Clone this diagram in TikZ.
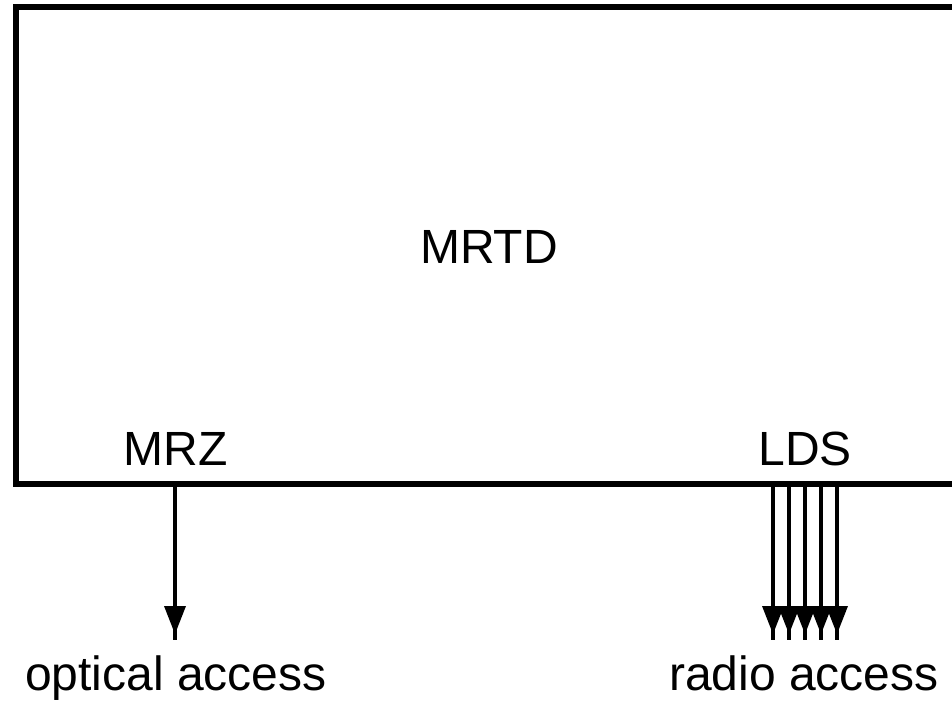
\documentclass[tikz,border=0pt]{standalone}
\usepackage{fontspec}
\setmainfont{Liberation Sans}
\usetikzlibrary{arrows.meta}
\begin{document}
\begin{tikzpicture}[x=1pt,y=-1pt,
  lbl/.style={font=\fontsize{48}{56}\selectfont, inner sep=0pt, anchor=base},
  frame/.style={draw=black, line width=6pt},
  wire/.style={draw=black, line width=4pt},
  tip/.style={draw=black, line width=4pt, shorten >=6pt, -{Triangle[width=22pt,length=28pt,line width=0pt]}}]
\useasboundingbox (0,0) rectangle (952,701);
\clip (0,0) rectangle (952,701);
\draw[frame] (16,7) rectangle (965,483.5);
\node[lbl] (mrtd) at (489,263) {MRTD};
\node[lbl] (mrz) at (175.5,465) {MRZ};
\node[lbl] (lds) at (805,465) {LDS};
\node[lbl] (opt) at (176,690) {optical access};
\node[lbl] (rad) at (804,690) {radio access};
\coordinate (m0) at (175,483.5);
\coordinate (m1) at (175,640);
\draw[wire] (m0) -- (m1);
\draw[tip] (m0) -- (m1);
\foreach \i/\x in {1/773,2/789,3/805,4/821,5/837}{
  \coordinate (l0\i) at (\x,483.5);
  \coordinate (l1\i) at (\x,640);
  \draw[wire] (l0\i) -- (l1\i);
  \draw[tip] (l0\i) -- (l1\i);
}
\end{tikzpicture}
\end{document}
